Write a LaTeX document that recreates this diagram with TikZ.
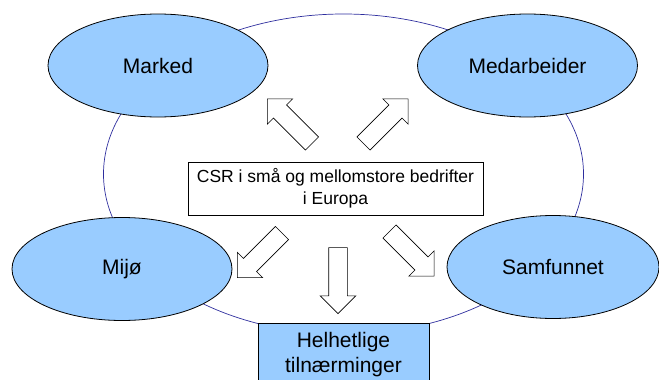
\documentclass[tikz,border=0pt]{standalone}
\usepackage{fontspec}
\setmainfont{Liberation Sans}
\usepackage{xcolor}
\usetikzlibrary{positioning,shapes.geometric,shapes.arrows}
\definecolor{bubble}{HTML}{99CCFF}
\definecolor{ringblue}{HTML}{2E2E9E}

\begin{document}
\begin{tikzpicture}[
  x=1pt, y=-1pt,
  ring/.style={draw=ringblue, line width=0.7pt},
  area/.style={ellipse, draw, line width=0.8pt, fill=bubble, inner sep=0pt,
    minimum width=220pt, minimum height=103pt, font=\fontsize{21}{25}\selectfont},
  core/.style={draw, line width=0.7pt, fill=white, minimum width=295pt, minimum height=53pt,
    align=center, font=\fontsize{17.5}{22}\selectfont},
  result/.style={draw, line width=0.8pt, fill=bubble, minimum width=171pt, minimum height=63pt,
    align=center, font=\fontsize{21}{25}\selectfont},
  blockarrow/.style={single arrow, draw, line width=0.6pt, fill=white, inner xsep=0pt, inner ysep=9pt,
    minimum height=63pt, single arrow head extend=8.5pt, single arrow tip angle=90}
]
\useasboundingbox (0,0) rectangle (659,380);
\clip (0,0) rectangle (659,380);

% outer ring behind everything
\draw[ring] (343.5,174) ellipse [x radius=240pt, y radius=160pt];

\node[area] (marked) at (158,65.5) {Marked};
\node[area] (medarb) at (527.5,65.5) {Medarbeider};
\node[area] (mijo) at (122,269) {Mijø};
\node[area, minimum width=212pt] (samf) at (553,267) {Samfunnet};

\node[core] (csr) at (335.5,188.5) {CSR i små og mellomstore bedrifter\\i Europa};
\node[result] (helhet) at (343.5,354.6) {Helhetlige\\tilnærminger};

% block arrows out of the centre
\node[blockarrow, rotate=135] (upleft) at (293,124.5) {};
\node[blockarrow, rotate=45] (upright) at (382.5,124.5) {};
\node[blockarrow, rotate=225] (downleft) at (263,252) {};
\node[blockarrow, rotate=270, minimum height=66pt] (down) at (338,276) {};
\node[blockarrow, rotate=-45] (downright) at (408.5,250.5) {};
\end{tikzpicture}
\end{document}
